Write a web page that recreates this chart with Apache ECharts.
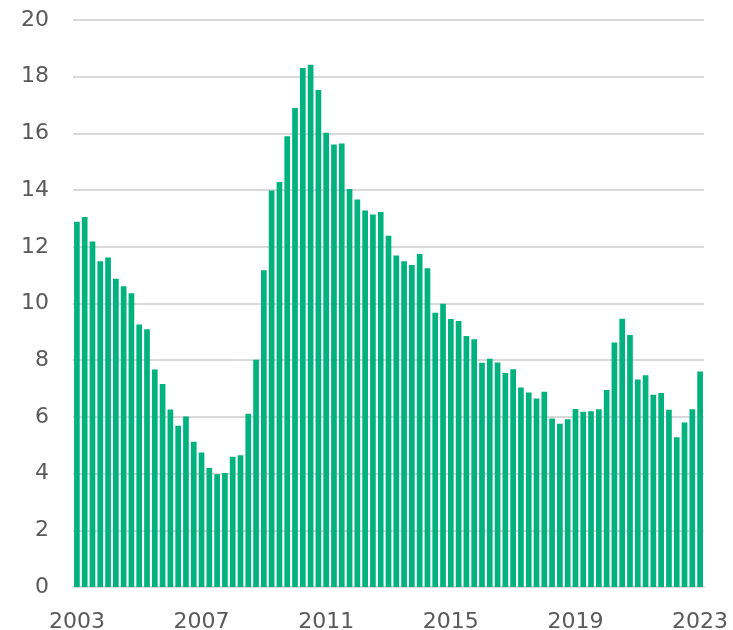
<!DOCTYPE html>
<html>
<head>
<meta charset="utf-8">
<script src="https://cdn.jsdelivr.net/npm/echarts@6/dist/echarts.min.js"></script>
<style>
  html, body { margin: 0; padding: 0; background: #fff; }
  #chart { width: 733px; height: 630px; }
</style>
</head>
<body>
<div id="chart"></div>
<script>
  // quarterly values, 2003 Q1 .. 2023 Q1
  var startYear = 2003;
  var values = [
    12.88, 13.05, 12.19, 11.49, 11.62, 10.87, 10.61, 10.36,
    9.26, 9.09, 7.67, 7.16, 6.26, 5.69, 6.01, 5.12,
    4.74, 4.20, 3.98, 4.02, 4.59, 4.65, 6.11, 8.02,
    11.17, 13.99, 14.29, 15.90, 16.90, 18.31, 18.42, 17.53,
    16.02, 15.61, 15.64, 14.04, 13.67, 13.28, 13.14, 13.23,
    12.39, 11.69, 11.49, 11.36, 11.75, 11.24, 9.67, 9.99,
    9.45, 9.38, 8.85, 8.74, 7.91, 8.05, 7.92, 7.55,
    7.68, 7.04, 6.86, 6.65, 6.89, 5.94, 5.76, 5.92,
    6.28, 6.18, 6.20, 6.27, 6.95, 8.62, 9.46, 8.89,
    7.32, 7.47, 6.78, 6.84, 6.25, 5.28, 5.80, 6.27,
    7.60
  ];
  var quarters = [];
  values.forEach(function(v, i) {
    quarters.push((startYear + Math.floor(i / 4)) + 'Q' + (i % 4 + 1));
  });
  var yTicks = [0, 2, 4, 6, 8, 10, 12, 14, 16, 18, 20];

  var chart = echarts.init(document.getElementById('chart'));
  var font = 'DejaVu Sans, Verdana, sans-serif';
  chart.setOption({
    animation: false,
    grid: { left: 73, right: 29, top: 20, bottom: 43, outerBoundsMode: 'none' },
    xAxis: {
      type: 'category',
      data: quarters,
      axisLine: { lineStyle: { color: '#d9d9d9', width: 2 } },
      axisTick: { show: false },
      axisLabel: {
        interval: 15,
        margin: 24,
        color: '#595959',
        fontSize: 22,
        fontFamily: font,
        formatter: function(v) { return v.slice(0, 4); }
      }
    },
    yAxis: {
      type: 'value',
      min: yTicks[0],
      max: yTicks[yTicks.length - 1],
      interval: 2,
      axisLine: { show: false },
      axisTick: { show: false },
      splitLine: { lineStyle: { color: '#d9d9d9', width: 2 } },
      axisLabel: {
        margin: 24,
        color: '#595959',
        fontSize: 22,
        fontFamily: font
      }
    },
    series: [{
      type: 'bar',
      data: values,
      barCategoryGap: '27%',
      itemStyle: { color: '#00b27d' }
    }]
  });
</script>
</body>
</html>
